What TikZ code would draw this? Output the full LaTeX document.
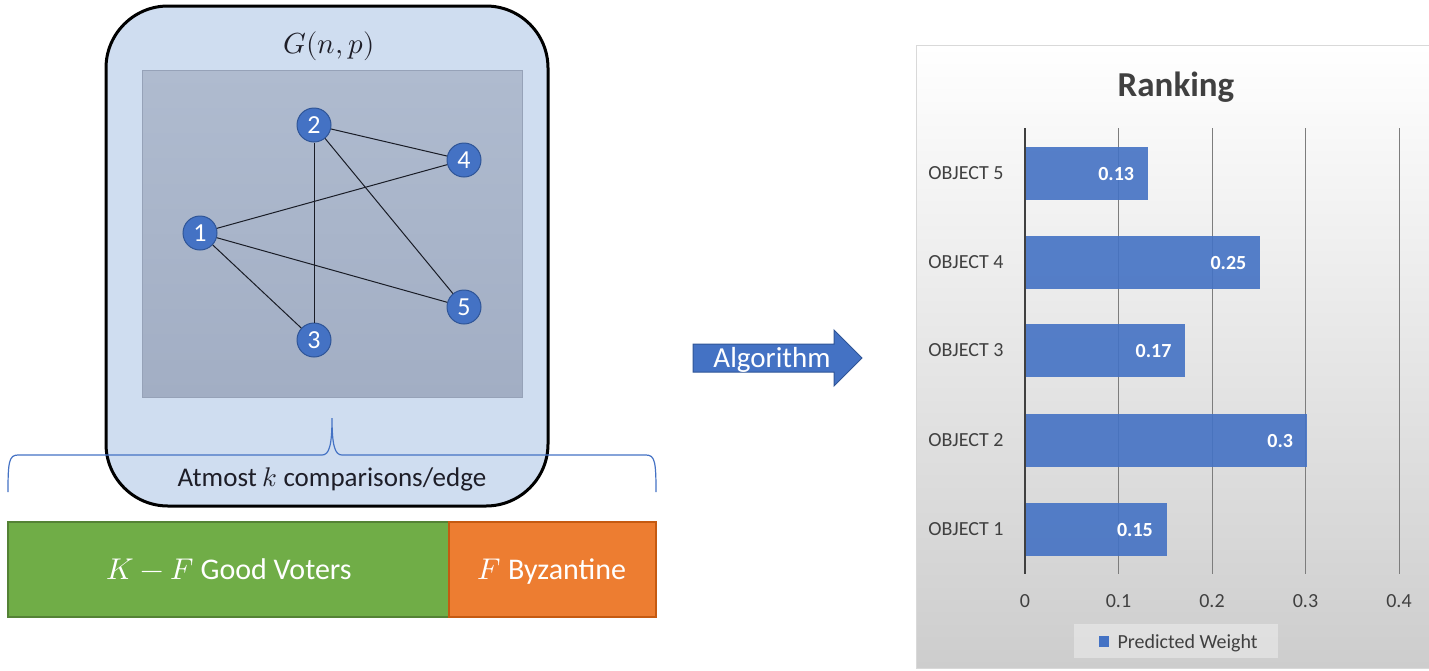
\documentclass[tikz,border=0pt]{standalone}
\usepackage{fontspec}
\usepackage{unicode-math}
\setmainfont{Carlito}
\setmathfont{Latin Modern Math}
\newcommand{\pxsize}[1]{\fontsize{#1}{#1}\selectfont}
\definecolor{boxfill}{RGB}{207,221,240}
\definecolor{innertop}{RGB}{175,187,207}
\definecolor{innerbot}{RGB}{162,174,196}
\definecolor{inneredge}{RGB}{150,162,184}
\definecolor{nodeblue}{RGB}{68,114,196}
\definecolor{nodeedge}{RGB}{47,85,151}
\definecolor{greenbar}{RGB}{112,173,71}
\definecolor{greenedge}{RGB}{84,130,53}
\definecolor{orangebar}{RGB}{237,125,49}
\definecolor{orangeedge}{RGB}{197,90,17}
\definecolor{chartbot}{RGB}{205,205,205}
\definecolor{chartedge}{RGB}{217,217,217}
\definecolor{txt}{RGB}{64,64,64}
\definecolor{gridc}{RGB}{125,125,125}
\definecolor{darktxt}{RGB}{30,30,40}
\definecolor{edgec}{RGB}{25,28,38}
\tikzset{
  gbox/.style={draw=black, line width=3pt, fill=boxfill, rounded corners=62pt,
    minimum width=442pt, minimum height=500pt, inner sep=0pt},
  innerrect/.style={draw=inneredge, line width=0.8pt, top color=innertop, bottom color=innerbot,
    minimum width=380pt, minimum height=327pt, inner sep=0pt},
  vtx/.style={circle, fill=nodeblue, draw=nodeedge, line width=1pt, minimum size=34pt,
    inner sep=0pt, text=white, font=\pxsize{26}},
  edge/.style={draw=edgec, line width=1pt},
  bracec/.style={draw=nodeblue, line width=1.2pt},
  votebox/.style={line width=1.2pt, minimum height=95pt, inner sep=0pt, text=white, font=\pxsize{30}},
  chartbg/.style={draw=chartedge, line width=1pt, top color=white, bottom color=chartbot,
    minimum width=518pt, minimum height=623pt, inner sep=0pt},
  gridl/.style={draw=gridc, line width=1pt},
  axisl/.style={draw=txt, line width=2pt},
  bar/.style={fill=nodeblue, fill opacity=0.9, minimum height=53pt, inner sep=0pt, anchor=west},
  barlbl/.style={text=white, font=\pxsize{20}\bfseries, anchor=base east},
  catlbl/.style={text=txt, font=\pxsize{20}, anchor=base east},
  ticklbl/.style={text=txt, font=\pxsize{20}, anchor=base},
}
\begin{document}
\begin{tikzpicture}[x=1pt, y=-1pt]
\useasboundingbox (0,0) rectangle (1429,670);

% ---- graph box ----
\node[gbox] (gbox) at (327,256) {};
\node[innerrect] (inner) at (332,233.5) {};
\node[anchor=base, font=\pxsize{29}, text=darktxt] (gtitle) at (329,53) {$G(n,p)$};

\node[vtx] (v1) at (200,233) {1};
\node[vtx] (v2) at (314,125) {2};
\node[vtx] (v3) at (314,340) {3};
\node[vtx] (v4) at (464,160) {4};
\node[vtx] (v5) at (464,307) {5};
\draw[edge] (v2) -- (v4);
\draw[edge] (v2) -- (v3);
\draw[edge] (v2) -- (v5);
\draw[edge] (v1) -- (v4);
\draw[edge] (v1) -- (v5);
\draw[edge] (v1) -- (v3);

% ---- brace ----
\draw[bracec] (8,492) .. controls (8,462) and (9,455) .. (18,455) -- (322,455)
  .. controls (329,455) and (332,446) .. (332,418)
  .. controls (332,446) and (335,455) .. (342,455) -- (646,455)
  .. controls (655,455) and (656,462) .. (656,492);
\node[anchor=base, font=\pxsize{27}, text=darktxt] (kcomp) at (332,486) {Atmost $k$ comparisons/edge};

% ---- voters ----
\node[votebox, fill=greenbar, draw=greenedge, minimum width=441pt] (good) at (228.5,569.5) {};
\node[votebox, fill=orangebar, draw=orangeedge, minimum width=207pt] (byz) at (552.5,569.5) {};
\node[anchor=base, text=white, font=\pxsize{30}] (goodt) at (229,579) {$K-F$ Good Voters};
\node[anchor=base, text=white, font=\pxsize{30}] (byzt) at (552,579) {$F$ Byzantine};

% ---- algorithm arrow ----
\path[fill=nodeblue, draw=nodeedge, line width=1pt]
  (693,344) -- (834,344) -- (834,330) -- (862,358) -- (834,386) -- (834,372) -- (693,372) -- cycle;
\node[anchor=base, text=white, font=\pxsize{29}] (algo) at (772,367) {Algorithm};

% ---- chart ----
\node[chartbg] (chart) at (1175,356.5) {};
\node[anchor=base, text=txt, font=\pxsize{35}\bfseries] (rtitle) at (1176,96) {Ranking};
\foreach \gx in {1118.5,1212,1305.5,1399} {
  \draw[gridl] (\gx,128) -- (\gx,574);
}
\node[bar, minimum width=121.6pt] (b5) at (1026,173) {};
\node[bar, minimum width=233.8pt] (b4) at (1026,262) {};
\node[bar, minimum width=159pt] (b3) at (1026,350.5) {};
\node[bar, minimum width=280.5pt] (b2) at (1026,440) {};
\node[bar, minimum width=140.3pt] (b1) at (1026,529.5) {};
\draw[axisl] (1025,128) -- (1025,574);

\node[barlbl] (l5) at (1137.6,180) {0.13};
\node[barlbl] (l4) at (1249.8,269) {0.25};
\node[barlbl] (l3) at (1175,357.5) {0.17};
\node[barlbl] (l2) at (1296.5,447) {0.3};
\node[barlbl] (l1) at (1156.3,536.5) {0.15};

\node[catlbl] (c5) at (1007,179) {OBJECT 5};
\node[catlbl] (c4) at (1007,268) {OBJECT 4};
\node[catlbl] (c3) at (1007,356.5) {OBJECT 3};
\node[catlbl] (c2) at (1007,446) {OBJECT 2};
\node[catlbl] (c1) at (1007,535.5) {OBJECT 1};

\node[ticklbl] (t0) at (1025,607) {0};
\node[ticklbl] (t1) at (1118.5,607) {0.1};
\node[ticklbl] (t2) at (1212,607) {0.2};
\node[ticklbl] (t3) at (1305.5,607) {0.3};
\node[ticklbl] (t4) at (1399,607) {0.4};

\node[fill=white, fill opacity=0.35, minimum width=204pt, minimum height=34pt, inner sep=0pt] (legend) at (1176,641) {};
\node[fill=nodeblue, minimum width=10pt, minimum height=11pt, inner sep=0pt] (legmark) at (1104,641.5) {};
\node[anchor=base west, text=txt, font=\pxsize{20}] (legtext) at (1114,648) {Predicted Weight};
\end{tikzpicture}
\end{document}
